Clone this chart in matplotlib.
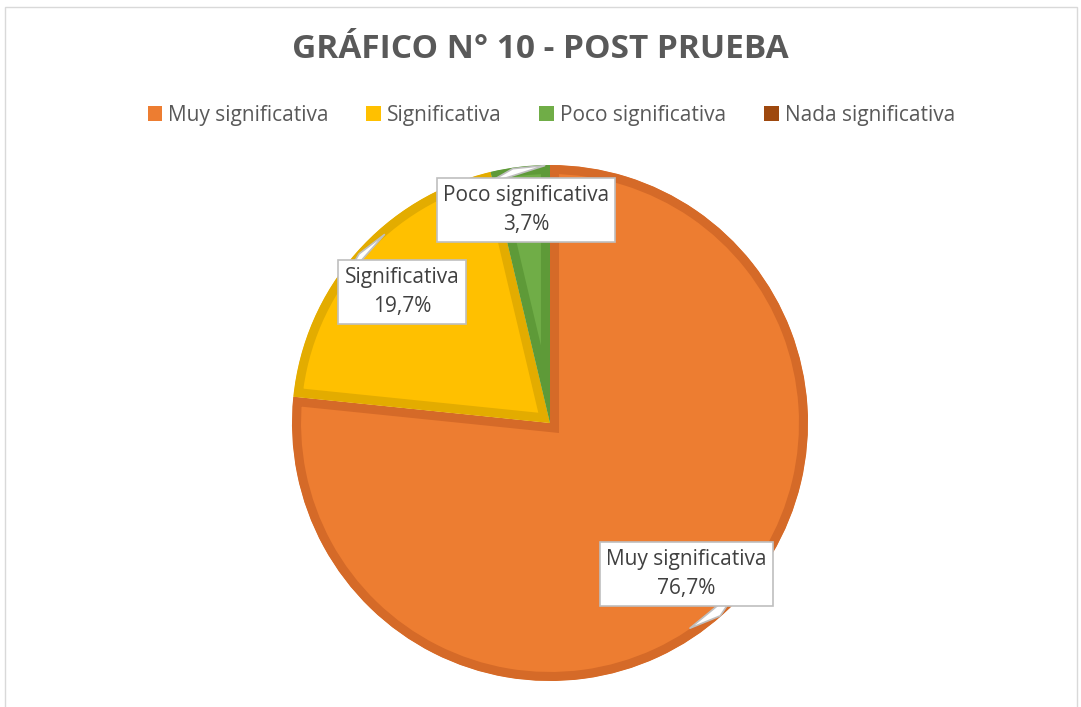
import matplotlib.pyplot as plt
from matplotlib.patches import Rectangle, Patch

# Datos del gráfico
categorias = ['Muy significativa', 'Significativa', 'Poco significativa', 'Nada significativa']
porcentajes = [76.7, 19.7, 3.7, 0.0]
colores = ['#ED7D31', '#FFC000', '#70AD47', '#9E480E']
bordes = ['#D56A28', '#E3AC00', '#5E9A38', '#9E480E']

W, H = 1081, 707
fig = plt.figure(figsize=(W / 100, H / 100), dpi=100)
ax = fig.add_axes([0, 0, 1, 1])

def py(y):
    # convierte y de imagen (arriba->abajo) a y de datos
    return H - y

# solo las porciones con valor (la de 0% no se dibuja)
vals = [v for v in porcentajes if v > 0]
cols = [c for c, v in zip(colores, porcentajes) if v > 0]
bords = [b for b, v in zip(bordes, porcentajes) if v > 0]

wedges, _ = ax.pie(vals, startangle=90, counterclock=False,
                   center=(550, py(423)), radius=258, colors=cols)
for w, b in zip(wedges, bords):
    w.set_edgecolor(b)
    w.set_linewidth(13)
    w.set_clip_path(w)
    w.set_clip_on(True)

ax.set_xlim(0, W)
ax.set_ylim(0, H)
ax.set_aspect('equal')
ax.axis('off')

# etiquetas tipo callout
etiquetas = [
    (categorias[0], porcentajes[0], (686, 574), (722, 618)),
    (categorias[1], porcentajes[1], (402, 292), (357, 252)),
    (categorias[2], porcentajes[2], (526, 210), (512, 166)),
]
for nombre, val, (tx, ty), (px_, py_) in etiquetas:
    texto = f"{nombre}\n{val:.1f}%".replace('.', ',')
    ax.annotate(texto, xy=(px_, py(py_)), xytext=(tx, py(ty)),
                ha='center', va='center', fontsize=15, color='#404040',
                family='Open Sans', linespacing=1.55,
                bbox=dict(boxstyle='square,pad=0.3', fc='white', ec='#BFBFBF', lw=1.2),
                arrowprops=dict(arrowstyle='wedge,tail_width=3.0,shrink_factor=0.5',
                                fc='white', ec='#BFBFBF', lw=1.2))

fig.text(0.5, 1 - 50 / H, 'GRÁFICO N° 10 - POST PRUEBA', ha='center', va='center',
         fontsize=24, fontweight='bold', color='#595959', family='Open Sans')

handles = [Patch(facecolor=c) for c in colores]
fig.legend(handles, categorias, loc='center', bbox_to_anchor=(0.51, 1 - 115 / H),
           ncol=4, frameon=False, handlelength=0.7, handleheight=0.7,
           handletextpad=0.3, columnspacing=1.8,
           prop={'family': 'Open Sans', 'size': 15}, labelcolor='#595959')

fig.patches.append(Rectangle((5 / W, -0.01), (W - 9) / W, 1.0, transform=fig.transFigure,
                             fill=False, ec='#D9D9D9', lw=1))

plt.savefig('out.png', dpi=100)
